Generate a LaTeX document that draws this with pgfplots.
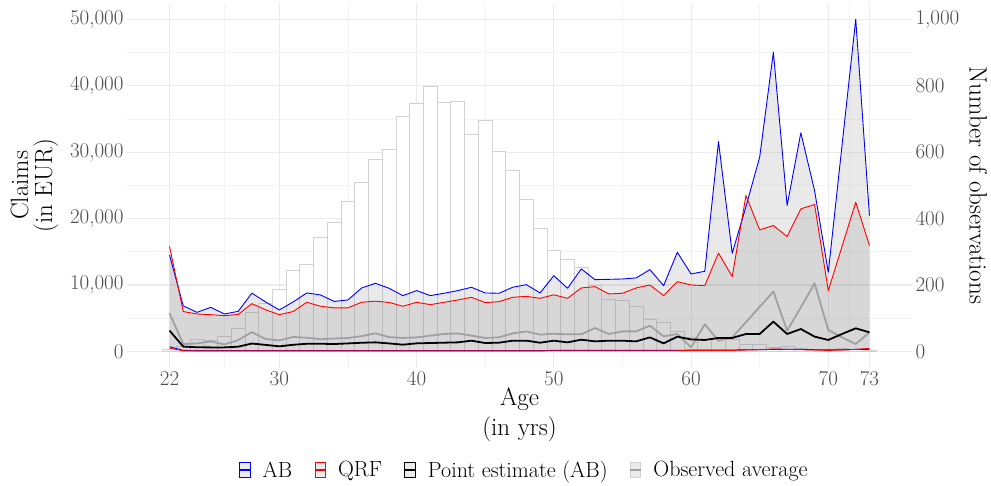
\documentclass[border=0pt]{standalone}
\usepackage{pgfplots}
\pgfplotsset{compat=1.18}
\usepgfplotslibrary{fillbetween}
\usepackage{pgfplotstable}

\definecolor{gridmaj}{HTML}{EBEBEB}
\definecolor{gridmin}{HTML}{F3F3F3}
\definecolor{ticklab}{HTML}{4D4D4D}
\definecolor{ribbon}{HTML}{7F7F7F}
\definecolor{obsline}{HTML}{A0A0A0}
\definecolor{barline}{HTML}{D2D2D2}
\definecolor{keyfill}{HTML}{EBEBEB}

% age, AB lower/upper, QRF lower/upper, point estimate, observed average, number of observations
\pgfplotstableread{
age abl abu qrl qru pe obs n
22 700 14500 500 15800 3120 5730 6
23 150 6850 80 6000 720 1100 15
24 120 5880 70 5630 620 1200 37
25 120 6630 70 5530 600 1500 32
26 120 5630 70 5380 600 1050 44
27 120 6030 70 5560 710 1700 69
28 120 8770 80 7190 1180 2900 118
29 120 7440 80 6260 980 1870 145
30 120 6240 80 5530 760 1650 188
31 120 7440 80 6000 990 2170 245
32 120 8800 80 7390 1150 2060 263
33 120 8500 80 6800 1150 1830 342
34 120 7520 80 6540 1110 1950 389
35 120 7750 80 6560 1200 2010 450
36 120 9550 80 7400 1300 2300 510
37 120 10250 80 7560 1360 2710 578
38 120 9500 80 7370 1200 2150 608
39 120 8400 80 6800 1010 2020 708
40 120 9150 80 7390 1210 2110 746
41 120 8400 80 7040 1260 2370 799
42 120 8750 80 7390 1310 2620 749
43 120 9150 80 7740 1360 2710 753
44 120 9650 80 8140 1610 2370 652
45 120 8800 80 7340 1260 2020 696
46 120 8750 80 7490 1310 2110 603
47 120 9650 80 8140 1610 2710 545
48 120 10050 80 8290 1610 3010 458
49 120 8800 80 7990 1310 2520 369
50 150 11400 100 8520 1610 2660 303
51 150 9500 100 7990 1360 2570 276
52 150 12420 100 9550 1760 2570 254
53 150 10800 100 9750 1510 3520 198
54 150 10850 100 8650 1610 2620 157
55 150 10900 100 8750 1610 3010 153
56 150 11060 100 9550 1510 3010 135
57 150 12310 100 10000 2110 3870 95
58 150 9900 100 8400 1210 2260 87
59 150 14920 100 10500 2220 2620 60
60 200 11660 150 10000 1800 610 42
61 200 12060 150 9900 1720 4080 35
62 200 31600 150 14800 2020 1610 38
63 200 14770 150 11260 2020 2110 36
64 250 21800 200 23470 2620 4400 20
65 250 29240 250 18300 2620 6700 22
66 300 45060 360 18950 4480 9000 12
67 300 21960 300 17290 2620 3120 16
68 300 32910 250 21460 3370 6630 8
69 250 24220 200 22110 2220 10250 5
70 250 11910 150 9150 1720 3220 2
71 250 31000 200 15800 2620 2110 9
72 300 50000 300 22460 3470 1110 6
73 300 20450 450 15930 2870 2870 3
}\claims

\pgfplotsset{
  keybox/.style n args={2}{legend image code/.code={
    \draw[draw=#1, fill=keyfill, line width=0.8pt] (0pt,-7.2pt) rectangle (10.5pt,7.2pt);
    \draw[draw=#2, line width=1.3pt] (0pt,0pt) -- (10.5pt,0pt);}},
  panel/.style={at={(127pt,118pt)}, anchor=south west, scale only axis,
    width=785pt, height=365.3pt, xmin=18.9, xmax=76.1,
    axis line style={draw=none}, major tick length=0pt, minor tick length=0pt,
    tick label style={font=\fontsize{21}{24}\selectfont, text=ticklab},
    /pgf/number format/assume math mode=true,
    /pgf/number format/1000 sep={,}, scaled y ticks=false},
}

\begin{document}
\begin{tikzpicture}
% number of observations: grid, bars and right-hand axis
\begin{axis}[panel, set layers,
  ymin=-50, ymax=1050, yticklabel pos=right,
  xtick={22,30,40,50,60,70,73}, minor xtick={26,35,45,55,65,71.5},
  ytick={0,200,400,600,800,1000}, minor ytick={100,300,500,700,900},
  grid=both, major grid style={gridmaj, line width=1.1pt}, minor grid style={gridmin, line width=0.7pt},
  ylabel={Number of observations},
  every axis y label/.style={at={(axis description cs:1.0845,0.5)}, rotate=-90, anchor=center, inner sep=0pt, font=\fontsize{25}{30}\selectfont},
]
\addplot[ybar, bar width=1, bar shift=0pt, draw=barline, fill=white, line width=0.9pt, on layer=pre main]
  table[x=age, y=n] {\claims};
\end{axis}

% claims: ribbons, lines, left-hand axis
\begin{axis}[panel,
  ymin=-2500, ymax=52500, xtick=\empty,
  ytick={0,10000,20000,30000,40000,50000},
  xlabel={Age\\(in yrs)}, ylabel={Claims\\(in EUR)},
  every axis x label/.style={at={(axis description cs:0.5,-0.129)}, anchor=center, align=center, font=\fontsize{25}{30}\selectfont},
  every axis y label/.style={at={(axis description cs:-0.1178,0.5)}, rotate=90, anchor=center, align=center, inner sep=0pt, font=\fontsize{25}{24}\selectfont},
  legend style={at={(axis description cs:0.506,-0.2792)}, anchor=center, draw=none, fill=none,
    font=\fontsize{22}{26}\selectfont,
    /tikz/every even column/.append style={column sep=20pt},
    /tikz/every odd column/.append style={column sep=10pt}},
  legend columns=4, legend cell align=left,
]
\addplot[draw=none, name path=abu, forget plot] table[x=age, y=abu] {\claims};
\addplot[draw=none, name path=abl, forget plot] table[x=age, y=abl] {\claims};
\addplot[fill=ribbon, fill opacity=0.17, draw=none, forget plot] fill between[of=abu and abl];
\addplot[draw=none, name path=qru, forget plot] table[x=age, y=qru] {\claims};
\addplot[draw=none, name path=qrl, forget plot] table[x=age, y=qrl] {\claims};
\addplot[fill=ribbon, fill opacity=0.17, draw=none, forget plot] fill between[of=qru and qrl];

\addplot[obsline, line width=1.8pt, line join=round, forget plot] table[x=age, y=obs] {\claims};
\addplot[blue, line width=0.9pt, line join=round, forget plot] table[x=age, y=abl] {\claims};
\addplot[red, line width=0.9pt, line join=round, forget plot] table[x=age, y=qrl] {\claims};
\addplot[black, line width=1.8pt, line join=round, forget plot] table[x=age, y=pe] {\claims};
\addplot[blue, line width=0.9pt, line join=round, forget plot] table[x=age, y=abu] {\claims};
\addplot[red, line width=0.9pt, line join=round, forget plot] table[x=age, y=qru] {\claims};

\addlegendimage{keybox={blue}{blue}}
\addlegendentry{AB}
\addlegendimage{keybox={red}{red}}
\addlegendentry{QRF}
\addlegendimage{keybox={black}{black}}
\addlegendentry{Point estimate (AB)}
\addlegendimage{keybox={barline}{obsline}}
\addlegendentry{Observed average}
\end{axis}
\path (0,0) rectangle (991pt,486pt);
\end{tikzpicture}
\end{document}
